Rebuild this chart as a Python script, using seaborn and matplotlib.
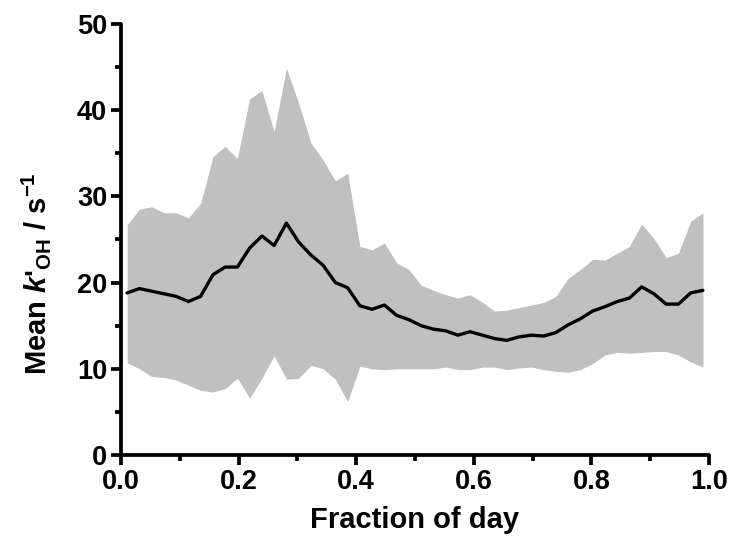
import numpy as np
import pandas as pd
import matplotlib
matplotlib.use("Agg")
import matplotlib.pyplot as plt
from matplotlib.ticker import MultipleLocator
import seaborn as sns

# Fraction of day (half-hour bins, centred)
frac = [(i + 0.5) / 48 for i in range(48)]

mean_k = [18.8, 19.3, 19.0, 18.7, 18.4, 17.8, 18.4, 20.9, 21.8, 21.8,
          24.0, 25.4, 24.3, 26.9, 24.7, 23.2, 22.0, 20.0, 19.4, 17.3,
          16.9, 17.4, 16.2, 15.7, 15.0, 14.6, 14.4, 13.9, 14.3, 13.9,
          13.5, 13.3, 13.7, 13.9, 13.8, 14.2, 15.1, 15.8, 16.7, 17.2,
          17.8, 18.2, 19.5, 18.7, 17.5, 17.5, 18.8, 19.1]

upper_k = [26.7, 28.5, 28.8, 28.1, 28.1, 27.5, 29.2, 34.6, 35.8, 34.4,
           41.3, 42.3, 37.5, 44.9, 40.8, 36.2, 34.2, 31.8, 32.7, 24.2,
           23.8, 24.6, 22.3, 21.5, 19.7, 19.1, 18.6, 18.2, 18.6, 17.7,
           16.7, 16.8, 17.1, 17.4, 17.7, 18.4, 20.5, 21.5, 22.7, 22.6,
           23.4, 24.2, 26.8, 25.1, 22.9, 23.4, 27.1, 28.1]

lower_k = [10.7, 10.0, 9.1, 9.0, 8.7, 8.1, 7.5, 7.3, 7.7, 8.9,
           6.6, 8.9, 11.5, 8.8, 8.9, 10.4, 10.0, 8.8, 6.2, 10.3,
           10.0, 9.9, 10.0, 10.0, 10.0, 10.0, 10.2, 9.9, 9.9, 10.2,
           10.2, 9.9, 10.1, 10.2, 9.9, 9.7, 9.6, 9.9, 10.6, 11.6,
           11.9, 11.8, 11.9, 12.0, 12.0, 11.6, 10.8, 10.2]

xtick_labels = ["0.0", "0.2", "0.4", "0.6", "0.8", "1.0"]

df = pd.DataFrame({"frac": frac, "mean": mean_k, "upper": upper_k, "lower": lower_k})

sns.set_style("ticks")
plt.rcParams["font.family"] = ["Liberation Sans", "DejaVu Sans"]
plt.rcParams["text.color"] = "black"
plt.rcParams["axes.labelcolor"] = "black"
plt.rcParams["xtick.color"] = "black"
plt.rcParams["ytick.color"] = "black"
plt.rcParams["axes.edgecolor"] = "black"
plt.rcParams["mathtext.fontset"] = "custom"
plt.rcParams["mathtext.rm"] = "Liberation Sans"
plt.rcParams["mathtext.bf"] = "Liberation Sans:bold"
plt.rcParams["mathtext.it"] = "Liberation Sans:italic"
plt.rcParams["mathtext.bfit"] = "Liberation Sans:bold:italic"

fig = plt.figure(figsize=(7.29, 5.44), dpi=100)
ax = fig.add_axes([0.166, 0.1636, 0.8066, 0.7924])

ax.fill_between(df["frac"], df["lower"], df["upper"], color="#c0c0c0", linewidth=0, zorder=1)
sns.lineplot(data=df, x="frac", y="mean", ax=ax, color="black", linewidth=2.4, zorder=2)

ax.set_xlim(0, 1.0)
ax.set_ylim(0, 50)
ax.xaxis.set_minor_locator(MultipleLocator(0.1))
ax.yaxis.set_major_locator(MultipleLocator(10))
ax.yaxis.set_minor_locator(MultipleLocator(5))
ax.set_xticks([0.0, 0.2, 0.4, 0.6, 0.8, 1.0])
ax.set_xticklabels(xtick_labels)

for s in ["top", "right"]:
    ax.spines[s].set_visible(False)
for s in ["left", "bottom"]:
    ax.spines[s].set_linewidth(2.7)
    ax.spines[s].set_capstyle("round")

ax.tick_params(which="major", length=7, width=2.7, direction="out", labelsize=19.5, pad=3)
ax.tick_params(which="minor", length=4.5, width=2.7, direction="out")
for lab in ax.get_xticklabels() + ax.get_yticklabels():
    lab.set_fontweight("bold")

ax.set_xlabel("Fraction of day", fontsize=21, fontweight="bold", labelpad=8)
ax.set_ylabel(r"Mean $\mathbfit{k}$'$_{\mathbf{OH}}$ / s$^{\mathbf{-1}}$",
              fontsize=21, fontweight="bold")
ax.yaxis.set_label_coords(-0.115, 0.42)

fig.savefig("out.png", dpi=100, facecolor="white")
